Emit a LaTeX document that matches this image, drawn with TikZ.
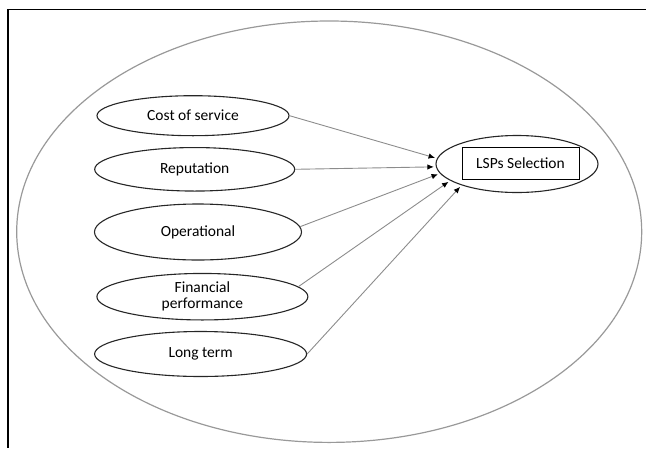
\documentclass[tikz,border=0pt]{standalone}
\usepackage{fontspec}
\setmainfont{Carlito}
\usetikzlibrary{shapes.geometric,arrows.meta}
\begin{document}
\begin{tikzpicture}[x=1pt,y=-1pt,
    oval/.style={ellipse,draw=black!85,line width=1.1pt,inner sep=0pt,align=center,
        font=\fontsize{15.5}{16}\selectfont},
    link/.style={draw=black!45,line width=0.9pt,
        -{Latex[length=6.5pt,width=5.5pt,color=black]},shorten >=2pt}]
    \useasboundingbox (0,0) rectangle (646,448);
    % frame
    \draw [line width=1.3pt] (646,9.5) -- (8,9.5) -- (8,448);
    \draw [black!40,line width=1.2pt] (329.2,231.7) ellipse [x radius=312.5,y radius=210.7];
    % factors
    \node [oval,minimum width=192,minimum height=40] (cost) at (193,115.7) {Cost of service};
    \node [oval,minimum width=200,minimum height=43.5] (rep) at (194.7,169.3) {Reputation};
    \node [oval,minimum width=207,minimum height=56] (ope) at (198,232) {Operational};
    \node [oval,minimum width=211,minimum height=46.5] (fin) at (202.4,296.7) {Financial\\performance};
    \node [oval,minimum width=212,minimum height=45] (long) at (200.6,354) {Long term};
    % selection
    \node [oval,minimum width=162,minimum height=57] (lsp) at (517,164) {};
    \node [draw,line width=0.9pt,minimum width=117,minimum height=32.5,
        font=\fontsize{15.5}{16}\selectfont] (lspbox) at (520.5,163.3) {LSPs Selection};
    % arrows
    \draw [link] (cost.east) -- (lsp.176);
    \draw [link] (rep.east) -- (lsp.182);
    \draw [link] (ope.3) -- (lsp.187);
    \draw [link] (fin.6) -- (lsp.194);
    \draw [link] (long.east) -- (lsp.201);
\end{tikzpicture}
\end{document}
